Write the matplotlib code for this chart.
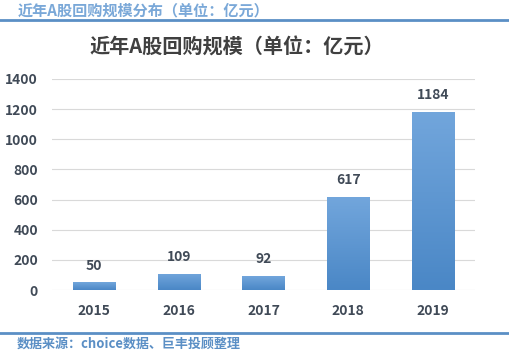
import numpy as np
import matplotlib
matplotlib.use('Agg')
import matplotlib.pyplot as plt
from matplotlib.lines import Line2D

plt.rcParams['font.family'] = ['Noto Sans CJK SC', 'DejaVu Sans']

years = ['2015', '2016', '2017', '2018', '2019']
values = [50, 109, 92, 617, 1184]
yticks = [0, 200, 400, 600, 800, 1000, 1200, 1400]

header = '近年A股回购规模分布（单位：亿元）'
title = '近年A股回购规模（单位：亿元）'
source = '数据来源：choice数据、巨丰投顾整理'

fig = plt.figure(figsize=(5.1, 3.55), dpi=100)
ax = fig.add_axes([52 / 510, 1 - 290 / 355, 423 / 510, 211 / 355])

x = np.arange(len(years))
bars = ax.bar(x, values, width=0.5, color='none', zorder=2)

# vertical gradient fill for each bar
grad = np.linspace(0, 1, 256).reshape(-1, 1)
cmap = matplotlib.colors.LinearSegmentedColormap.from_list('b', ['#4a87c6', '#72a6dc'])
for b in bars:
    x0, y0 = b.get_x(), b.get_y()
    w, h = b.get_width(), b.get_height()
    im = ax.imshow(grad, extent=[x0, x0 + w, y0, y0 + h], origin='lower',
                   cmap=cmap, aspect='auto', zorder=2)
    im.set_clip_path(b)

for xi, v in zip(x, values):
    ax.annotate(str(v), (xi, v), xytext=(0, 7), textcoords='offset points',
                ha='center', va='bottom', fontsize=10, fontweight='bold', color='#404a57')

ax.set_xlim(-0.5, 4.5)
ax.set_ylim(0, 1400)
ax.set_yticks(yticks)
ax.set_xticks(x)
ax.set_xticklabels(years)
ax.grid(axis='y', color='#d9d9d9', linewidth=0.8, zorder=0)
ax.set_axisbelow(True)
for s in ax.spines.values():
    s.set_visible(False)
ax.tick_params(length=0, labelsize=10, colors='#404a57')
ax.tick_params(axis='x', pad=10)
ax.tick_params(axis='y', pad=10)
for lab in ax.get_xticklabels() + ax.get_yticklabels():
    lab.set_fontweight('bold')

fig.text(237 / 510, 1 - 47 / 355, title, ha='center', va='center',
         fontsize=14.5, fontweight='bold', color='#404040')

fig.text(18 / 510, 1 - 10 / 355, header, ha='left', va='center',
         fontsize=10.9, fontweight='bold', color='#7aa8d8')
fig.add_artist(Line2D([0, 1], [1 - 19.5 / 355] * 2, color='#5b8fc5', linewidth=2))

fig.add_artist(Line2D([0, 1], [1 - 333 / 355] * 2, color='#5b8fc5', linewidth=2))
fig.text(17 / 510, 1 - 344 / 355, source, ha='left', va='center',
         fontsize=9.4, fontweight='bold', color='#5b8fc5')

fig.savefig('out.png', dpi=100)
